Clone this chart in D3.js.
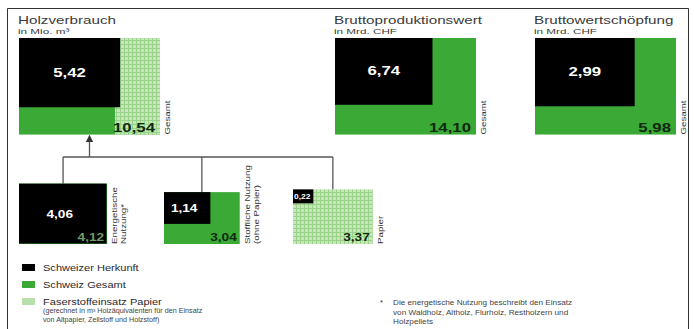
<!DOCTYPE html>
<html>
<head>
<meta charset="utf-8">
<script src="https://cdn.jsdelivr.net/npm/d3@7"></script>
<style>
body { margin: 0; background: #fff; }
svg { display: block; font-family: "Liberation Sans", Arial, sans-serif; }
</style>
</head>
<body>
<div id="chart"></div>
<script>
// top row: totals with the swiss share inside
var topTitles = ["Holzverbrauch", "Bruttoproduktionswert", "Bruttowertschöpfung"];
var topUnits = ["in Mio. m³", "in Mrd. CHF", "in Mrd. CHF"];
var topSwiss = [5.42, 6.74, 2.99];
var topTotal = [10.54, 14.10, 5.98];
var topPaper = [3.37, 0, 0];

// bottom row: how the wood is used
var useLabels = [["Energetische", "Nutzung*"], ["Stoffliche Nutzung", "(ohne Papier)"], ["Papier"]];
var useSwiss = [4.06, 1.14, 0.22];
var useTotal = [4.12, 3.04, 3.37];
var usePaper = [false, false, true];

var legendLabels = ["Schweizer Herkunft", "Schweiz Gesamt", "Faserstoffeinsatz Papier"];
var legendNote = ["(gerechnet in m³ Holzäquivalenten für den Einsatz", "von Altpapier, Zellstoff und Holzstoff)"];
var footnote = ["Die energetische Nutzung beschreibt den Einsatz", "von Waldholz, Altholz, Flurholz, Restholzern und", "Holzpellets"];

var black = "#000", green = "#3ba935", light = "#b9e0aa";
var W = 694, H = 329;
var boxW = 141, aspect = 1.46;
var topX = [19, 335, 535], topY = 38;
var useX = [19, 164, 293], baseY = 244, branchY = 157;

var fmt = d3.formatLocale({decimal: ",", thousands: "'", grouping: [3], currency: ["", ""]}).format(".2f");

var svg = d3.select("#chart").append("svg")
    .attr("width", W)
    .attr("height", H);

var defs = svg.append("defs");
var pat = defs.append("pattern")
    .attr("id", "paper")
    .attr("patternUnits", "userSpaceOnUse")
    .attr("width", 4)
    .attr("height", 4);
pat.append("rect").attr("width", 4).attr("height", 4).attr("fill", "#c6e8b8");
pat.append("path").attr("d", "M0,0.5H4M0.5,0V4").attr("stroke", "#97d288").attr("stroke-width", 1);

defs.append("marker")
    .attr("id", "arrow")
    .attr("viewBox", "0 0 10 10")
    .attr("refX", 5).attr("refY", 5)
    .attr("markerWidth", 6).attr("markerHeight", 6)
    .attr("orient", "auto")
    .append("path")
    .attr("d", "M0,0L10,5L0,10z")
    .attr("fill", "#333");

// frame
svg.append("path")
    .attr("d", "M7.5," + H + "V8.5H688.5V" + H)
    .attr("fill", "none")
    .attr("stroke", "#333")
    .attr("stroke-width", 1);

// text helper, glyphs are a bit wide in the original
function txt(g, x, y, s, o) {
    o = o || {};
    return g.append("text")
        .attr("transform", "translate(" + x + "," + y + ")" + (o.rot ? " rotate(-90)" : "") + " scale(" + (o.sx || 1.3) + ",1)")
        .attr("font-size", o.size || 8)
        .attr("font-weight", o.bold ? "bold" : null)
        .attr("fill", o.fill || "#333")
        .attr("text-anchor", o.anchor || "start")
        .text(s);
}

// area scale shared by Holzverbrauch and the use boxes
var side = d3.scaleSqrt().domain([0, topTotal[0]]).range([0, boxW]);

topTitles.forEach(function (title, i) {
    var s = i === 0 ? side : d3.scaleSqrt().domain([0, topTotal[i]]).range([0, boxW]);
    var x0 = topX[i], y0 = topY;
    var tw = s(topTotal[i]), th = tw / aspect;
    var g = svg.append("g");

    g.append("rect").attr("x", x0).attr("y", y0).attr("width", tw).attr("height", th).attr("fill", green);

    if (topPaper[i] > 0) {
        var px = d3.scaleLinear().domain([0, topTotal[i]]).range([x0, x0 + tw]);
        g.append("rect")
            .attr("x", px(topTotal[i] - topPaper[i]))
            .attr("y", y0)
            .attr("width", px(topTotal[i]) - px(topTotal[i] - topPaper[i]))
            .attr("height", th)
            .attr("fill", "url(#paper)");
    }

    var bw = s(topSwiss[i]), bh = bw / aspect;
    g.append("rect").attr("x", x0).attr("y", y0).attr("width", bw).attr("height", bh).attr("fill", black);

    txt(g, x0 + bw / 2, y0 + bh / 2 + 4, fmt(topSwiss[i]), {size: 12, bold: true, fill: "#fff", anchor: "middle", sx: 1.4});
    txt(g, x0 + tw - 5, y0 + th - 3, fmt(topTotal[i]), {size: 12, bold: true, fill: "#0f2a0f", anchor: "end", sx: 1.4});
    txt(g, x0 + tw + 10, y0 + th, "Gesamt", {rot: true, size: 7.5});
    txt(g, x0 - 1, y0 - 14, title, {size: 10.5, fill: "#3a3a3a", sx: 1.45});
    txt(g, x0 - 1, y0 - 4, topUnits[i], {size: 7.8, fill: "#3a3a3a", sx: 1.5});
});

// connectors
var lineCol = "#555";
var centers = useTotal.map(function (v, i) { return useX[i] + side(v) / 2; });
svg.append("line")
    .attr("x1", centers[0]).attr("x2", centers[centers.length - 1])
    .attr("y1", branchY).attr("y2", branchY)
    .attr("stroke", lineCol).attr("stroke-width", 1.3);

var topCx = topX[0] + side(topTotal[0]) / 2;
svg.append("line")
    .attr("x1", topCx).attr("x2", topCx)
    .attr("y1", branchY).attr("y2", topY + side(topTotal[0]) / aspect + 4)
    .attr("stroke", lineCol).attr("stroke-width", 1.3)
    .attr("marker-end", "url(#arrow)");

useTotal.forEach(function (v, i) {
    var w = side(v), h = w / aspect, x0 = useX[i], y0 = baseY - h;
    var g = svg.append("g");

    g.append("line")
        .attr("x1", centers[i]).attr("x2", centers[i])
        .attr("y1", branchY).attr("y2", y0)
        .attr("stroke", lineCol).attr("stroke-width", 1.3);

    g.append("rect").attr("x", x0).attr("y", y0).attr("width", w).attr("height", h)
        .attr("fill", usePaper[i] ? "url(#paper)" : green);

    var bw = side(useSwiss[i]), bh = bw / aspect;
    g.append("rect").attr("x", x0).attr("y", y0).attr("width", bw).attr("height", bh).attr("fill", black);

    if (bw < 30) {
        txt(g, x0 + 1, y0 + bh - 4, fmt(useSwiss[i]), {size: 8, bold: true, fill: "#fff", sx: 1.05});
    } else {
        txt(g, x0 + bw / 2 - 3, y0 + bh / 2 + 4, fmt(useSwiss[i]), {size: 10.5, bold: true, fill: "#fff", anchor: "middle"});
    }
    txt(g, x0 + w - 3, baseY - 3, fmt(v), {size: 10.5, bold: true, fill: i === 0 ? "#6e9a66" : "#0f2a0f", anchor: "end"});

    useLabels[i].forEach(function (l, j) {
        txt(g, x0 + w + 10 + j * 9, baseY, l, {rot: true, size: 7.5});
    });
});

// legend
var legColor = d3.scaleOrdinal().domain(legendLabels).range([black, green, light]);
var legY = d3.scaleLinear().domain([0, 1]).range([264, 281]);
var leg = svg.append("g");
legendLabels.forEach(function (l, i) {
    leg.append("rect")
        .attr("x", 22).attr("y", legY(i))
        .attr("width", 13).attr("height", 7)
        .attr("fill", legColor(l));
    txt(leg, 43, legY(i) + 6.5, l, {size: 8.5, fill: "#2a2a2a"});
});
legendNote.forEach(function (l, i) {
    txt(leg, 43, legY(2) + 14.5 + i * 9.5, l, {size: 6.6, sx: 1.09, fill: "#444"});
});

// footnote
var foot = svg.append("g");
txt(foot, 380, 305, "*", {size: 7.5, sx: 1});
footnote.forEach(function (l, i) {
    txt(foot, 393, 305 + i * 9.5, l, {size: 7, sx: 1.17, fill: "#444"});
});
</script>
</body>
</html>
